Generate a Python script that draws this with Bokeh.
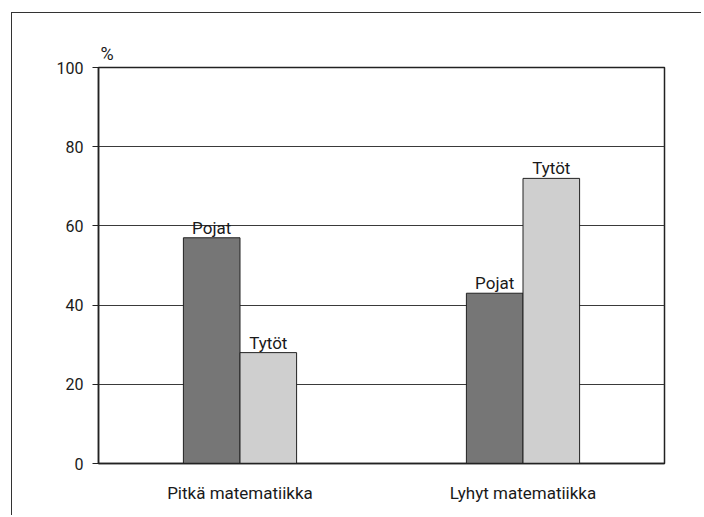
from bokeh.plotting import figure
from bokeh.models import ColumnDataSource, FactorRange, FixedTicker
from bokeh.transform import dodge
from bokeh.core.properties import value
from bokeh.embed import file_html
from bokeh.resources import INLINE

categories = ["Pitkä matematiikka", "Lyhyt matematiikka"]
pojat = [57, 43]
tytot = [28, 72]
series_names = ["Pojat", "Tytöt"]
y_ticks = [0, 20, 40, 60, 80, 100]

FONT = "Roboto"

src = ColumnDataSource(dict(cat=categories, pojat=pojat, tytot=tytot,
                            lp=[series_names[0]] * 2, lt=[series_names[1]] * 2))

p = figure(width=690, height=503, x_range=FactorRange(*categories), y_range=(0, 100),
           output_backend="svg", toolbar_location=None,
           min_border_left=86, min_border_top=54, min_border_right=38, min_border_bottom=53)
p.styles = {"border-top": "1.5px solid #333333", "border-left": "1.5px solid #333333",
            "margin-left": "11px", "margin-top": "12px"}
p.background_fill_color = "white"
p.border_fill_color = "white"
p.outline_line_color = "#222222"
p.outline_line_width = 1.5

p.title.text = "%"
p.title.align = "left"
p.title.offset = 2
p.title.text_font = FONT
p.title.text_font_size = "18px"
p.title.text_font_style = "normal"
p.title.text_color = "#1a1a1a"
p.title.standoff = 7

p.xgrid.grid_line_color = None
p.ygrid.grid_line_color = "#3a3a3a"
p.ygrid.grid_line_width = 1
p.yaxis.ticker = FixedTicker(ticks=y_ticks)

p.vbar(x=dodge("cat", -0.1, range=p.x_range), top="pojat", width=0.2, source=src,
       fill_color="#767676", line_color="#222222", line_width=1)
p.vbar(x=dodge("cat", 0.1, range=p.x_range), top="tytot", width=0.2, source=src,
       fill_color="#cfcfcf", line_color="#222222", line_width=1)

lab_font = value(FONT)
p.text(x=dodge("cat", -0.1, range=p.x_range), y="pojat", text="lp", source=src,
       text_align="center", text_baseline="bottom", y_offset=0,
       text_font=lab_font, text_font_size="17px", text_color="#1a1a1a")
p.text(x=dodge("cat", 0.1, range=p.x_range), y="tytot", text="lt", source=src,
       text_align="center", text_baseline="bottom", y_offset=0,
       text_font=lab_font, text_font_size="17px", text_color="#1a1a1a")

for ax in (p.xaxis, p.yaxis):
    ax.axis_line_color = "#222222"
    ax.axis_line_width = 1.5
    ax.minor_tick_line_color = None

p.xaxis.major_tick_line_color = None
p.xaxis.major_label_text_font = FONT
p.xaxis.major_label_text_font_size = "17px"
p.xaxis.major_label_text_color = "#1a1a1a"
p.xaxis.major_label_standoff = 13

p.yaxis.major_tick_out = 6
p.yaxis.major_tick_in = 0
p.yaxis.major_tick_line_color = "#222222"
p.yaxis.major_label_text_font = FONT
p.yaxis.major_label_text_font_size = "16px"
p.yaxis.major_label_text_color = "#1a1a1a"
p.yaxis.major_label_standoff = 9

open("out.html", "w").write(file_html(p, INLINE))
